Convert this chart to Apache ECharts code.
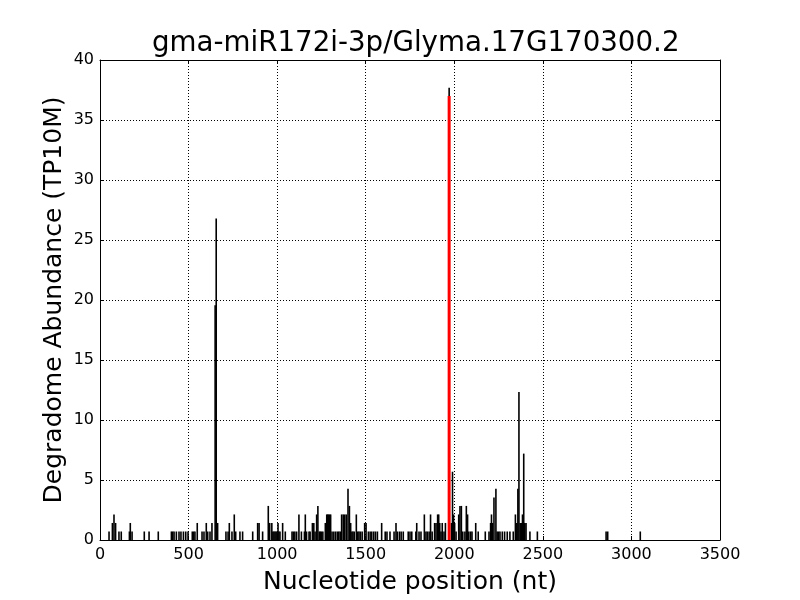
<!DOCTYPE html>
<html>
<head>
<meta charset="utf-8">
<script src="https://cdn.jsdelivr.net/npm/echarts@6/dist/echarts.min.js"></script>
<style>html,body{margin:0;padding:0;background:#fff}#c{width:800px;height:600px}</style>
</head>
<body>
<div id="c"></div>
<script>
var titleText = 'gma-miR172i-3p/Glyma.17G170300.2';
var xTicks = [0, 500, 1000, 1500, 2000, 2500, 3000, 3500];
var yTicks = [0, 5, 10, 15, 20, 25, 30, 35, 40];
var positions = [51,70,79,88,107,120,166,171,181,250,277,329,403,410,418,431,446,457,471,484,497,521,529,536,549,576,587,600,608,621,632,650,656,664,711,723,730,745,758,766,790,805,862,890,898,918,950,958,970,976,982,988,994,1000,1005,1010,1016,1031,1046,1084,1092,1100,1110,1123,1137,1154,1159,1166,1180,1186,1199,1207,1214,1223,1230,1238,1244,1250,1258,1272,1280,1285,1290,1296,1302,1310,1320,1330,1340,1348,1356,1364,1373,1381,1390,1400,1408,1415,1422,1428,1435,1447,1455,1462,1470,1480,1494,1502,1515,1525,1534,1545,1555,1566,1590,1610,1620,1637,1660,1671,1678,1690,1700,1712,1740,1750,1760,1783,1788,1801,1812,1831,1840,1848,1858,1866,1875,1889,1897,1906,1912,1918,1925,1932,1942,1950,1971,1984,1990,1996,2002,2010,2025,2032,2040,2048,2060,2068,2075,2082,2092,2100,2121,2135,2175,2196,2205,2210,2216,2224,2235,2242,2250,2258,2271,2284,2299,2314,2333,2345,2353,2359,2365,2372,2378,2385,2392,2398,2405,2427,2469,2857,2866,3050];
var abundance = [0.71,1.42,2.13,1.42,0.71,0.71,0.71,1.42,0.71,0.71,0.71,0.71,0.71,0.71,0.71,0.71,0.71,0.71,0.71,0.71,0.71,0.71,0.71,0.71,1.42,0.71,0.71,1.42,0.71,0.71,1.42,19.57,26.8,1.42,0.71,0.71,1.42,0.71,2.13,0.71,0.71,0.71,0.71,1.42,1.42,0.71,2.84,1.42,1.42,0.71,0.71,0.71,0.71,0.71,1.42,0.71,0.71,1.42,0.71,0.71,0.71,0.71,0.71,2.13,0.71,0.71,2.13,0.71,0.71,0.71,1.42,1.42,0.71,2.13,2.84,0.71,0.71,0.71,0.71,1.42,2.13,2.13,2.13,2.13,2.13,0.71,0.71,0.71,0.71,0.71,0.71,2.13,2.13,2.13,2.13,4.27,2.84,1.42,0.71,0.71,0.71,2.13,0.71,0.71,0.71,0.71,1.42,1.42,0.71,0.71,0.71,0.71,0.71,0.71,1.42,0.71,0.71,0.71,0.71,1.42,0.71,0.71,0.71,0.71,0.71,0.71,0.71,0.71,1.42,0.71,0.71,2.13,0.71,0.71,0.71,2.13,0.71,1.42,1.42,2.13,2.13,1.42,0.71,1.42,0.71,1.42,37.69,1.42,5.69,2.13,1.42,0.71,2.13,2.84,2.84,0.71,0.71,2.84,2.13,0.71,0.71,0.71,1.42,0.71,0.71,0.71,1.42,2.13,1.42,3.55,4.27,0.71,0.71,0.71,0.71,0.71,0.71,0.71,0.71,2.13,1.42,4.27,12.33,1.42,1.42,2.13,7.2,1.42,1.42,0.71,0.71,0.71,0.71,0.71];
var cleavagePos = [1971];
var cleavageVal = [37.0];

var font = 'DejaVu Sans';
var chart = echarts.init(document.getElementById('c'), null, {renderer: 'canvas'});
var blackData = positions.map(function (p, i) { return [p, abundance[i]]; });
var redData = cleavagePos.map(function (p, i) { return [p, cleavageVal[i]]; });
var gridLine = {show: true, lineStyle: {color: '#000', type: [1, 2], width: 1}};
var tickIn = {show: true, inside: true, length: 4, lineStyle: {color: '#000', width: 1}};
var plain = function (v) { return String(v); };
chart.setOption({
  animation: false,
  backgroundColor: '#fff',
  title: {
    text: titleText, left: 147, top: 25,
    textStyle: {fontFamily: font, fontSize: 27.7, fontWeight: 'normal', color: '#000'}
  },
  grid: {left: 100, right: 80, top: 60, bottom: 60, containLabel: false},
  xAxis: [{
    type: 'value', min: xTicks[0], max: xTicks[xTicks.length - 1], interval: 500, position: 'bottom',
    name: 'Nucleotide position (nt)', nameLocation: 'middle', nameGap: 30,
    nameTextStyle: {fontFamily: font, fontSize: 25, color: '#000'},
    axisLine: {show: true, onZero: false, lineStyle: {color: '#000', width: 1}},
    axisTick: tickIn, splitLine: gridLine,
    axisLabel: {fontFamily: font, fontSize: 16, color: '#000', margin: 7, formatter: plain}
  }, {
    type: 'value', min: xTicks[0], max: xTicks[xTicks.length - 1], interval: 500, position: 'top',
    axisLine: {show: true, onZero: false, lineStyle: {color: '#000', width: 1}},
    axisTick: tickIn, splitLine: {show: false}, axisLabel: {show: false}
  }],
  yAxis: [{
    type: 'value', min: yTicks[0], max: yTicks[yTicks.length - 1], interval: 5, position: 'left',
    name: 'Degradome Abundance (TP10M)', nameLocation: 'middle', nameGap: 33, nameMoveOverlap: false,
    nameTextStyle: {fontFamily: font, fontSize: 25, color: '#000'},
    axisLine: {show: true, onZero: false, lineStyle: {color: '#000', width: 1}},
    axisTick: tickIn, splitLine: gridLine,
    axisLabel: {fontFamily: font, fontSize: 16, color: '#000', margin: 6, formatter: plain}
  }, {
    type: 'value', min: yTicks[0], max: yTicks[yTicks.length - 1], interval: 5, position: 'right',
    axisLine: {show: true, onZero: false, lineStyle: {color: '#000', width: 1}},
    axisTick: tickIn, splitLine: {show: false}, axisLabel: {show: false}
  }],
  series: [{
    type: 'bar', xAxisIndex: 0, yAxisIndex: 0, data: blackData,
    barWidth: 1.6, itemStyle: {color: '#000'}, silent: true
  }, {
    type: 'bar', xAxisIndex: 1, yAxisIndex: 0, data: redData,
    barWidth: 3, itemStyle: {color: '#ff0000'}, silent: true, z: 3
  }]
});
</script>
</body>
</html>
